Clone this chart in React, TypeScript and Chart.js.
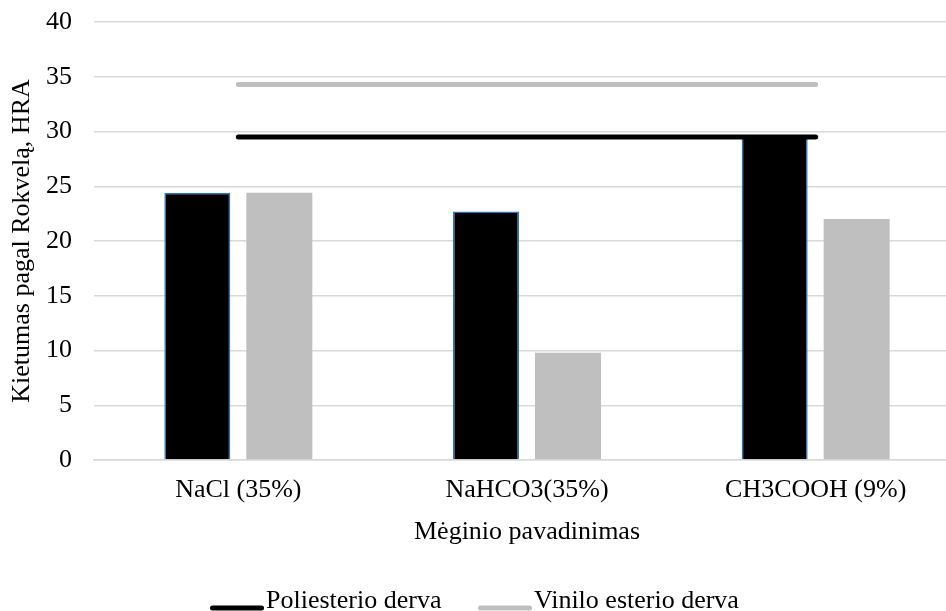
import React, { useEffect, useRef } from 'react';
import { Chart, registerables } from 'chart.js';

Chart.register(...registerables);

const categories = ['NaCl (35%)', 'NaHCO3(35%)', 'CH3COOH (9%)'];
const polyesterBars = [24.4, 22.7, 29.5];
const vinylBars = [24.4, 9.8, 22.0];
const polyesterLine = [29.5, 29.5, 29.5];
const vinylLine = [34.3, 34.3, 34.3];
const seriesNames = ['Poliesterio derva', 'Vinilo esterio derva'];
const yTitle = 'Kietumas pagal Rokvelą, HRA';
const xTitle = 'Mėginio pavadinimas';
const yMin = 0;
const yMax = 40;
const yStep = 5;

const FONT = "'Liberation Serif', 'Times New Roman', serif";
const FS = 26;

function legendLine(color: string): HTMLCanvasElement {
  const c = document.createElement('canvas');
  c.width = 54;
  c.height = 30;
  const g = c.getContext('2d')!;
  g.strokeStyle = color;
  g.lineWidth = 5;
  g.lineCap = 'round';
  g.beginPath();
  g.moveTo(2.5, 22);
  g.lineTo(51.5, 22);
  g.stroke();
  return c;
}

const LEGEND_PAD = 47.5;

const legendPlace = {
  id: 'legendPlace',
  afterLayout(chart: any) {
    const l = chart.legend;
    if (!l) return;
    l.left = 221 - LEGEND_PAD;
    l.right = 960;
    l.top = 601 - FS / 2 - LEGEND_PAD;
    l.bottom = 620;
  },
};

export default function App() {
  const ref = useRef<HTMLCanvasElement>(null);

  useEffect(() => {
    if (!ref.current) return;
    const chart = new Chart(ref.current, {
      type: 'bar',
      data: {
        labels: categories,
        datasets: [
          {
            type: 'line',
            label: seriesNames[0],
            data: polyesterLine,
            borderColor: '#000000',
            backgroundColor: '#000000',
            borderWidth: 5,
            borderCapStyle: 'round',
            pointRadius: 0,
            pointHoverRadius: 0,
            pointStyle: legendLine('#000000'),
            fill: false,
          } as any,
          {
            type: 'line',
            label: seriesNames[1],
            data: vinylLine,
            borderColor: '#BFBFBF',
            backgroundColor: '#BFBFBF',
            borderWidth: 5,
            borderCapStyle: 'round',
            pointRadius: 0,
            pointHoverRadius: 0,
            pointStyle: legendLine('#BFBFBF'),
            fill: false,
          } as any,
          {
            type: 'bar',
            label: seriesNames[0] + ' bar',
            data: polyesterBars,
            backgroundColor: '#000000',
            borderColor: '#2F75B5',
            borderWidth: 1.5,
            categoryPercentage: 0.568,
            barPercentage: 0.805,
          },
          {
            type: 'bar',
            label: seriesNames[1] + ' bar',
            data: vinylBars,
            backgroundColor: '#BFBFBF',
            borderColor: '#BFBFBF',
            borderWidth: 0,
            categoryPercentage: 0.568,
            barPercentage: 0.805,
          },
        ],
      },
      options: {
        animation: false,
        responsive: false,
        maintainAspectRatio: false,
        layout: { padding: { top: 22, left: 0, right: 0, bottom: 0 } },
        font: { family: FONT, size: FS },
        plugins: {
          tooltip: { enabled: false },
          legend: {
            position: 'bottom',
            align: 'start',
            maxHeight: 63,
            labels: {
              filter: (item: any) => item.datasetIndex < 2,
              usePointStyle: true,
              pointStyleWidth: 32,
              padding: LEGEND_PAD,
              color: '#000',
              font: { family: FONT, size: FS },
            },
          },
        },
        scales: {
          x: {
            grid: { display: false, drawTicks: false },
            border: { display: true, color: '#D9D9D9', width: 1.5 },
            ticks: {
              padding: 15,
              color: '#000',
              font: { family: FONT, size: FS },
            },
            title: {
              display: true,
              text: xTitle,
              color: '#000',
              padding: { top: 0, bottom: 0 },
              font: { family: FONT, size: FS },
            },
            afterFit: (s: any) => {
              s.height = 88;
            },
          },
          y: {
            min: yMin,
            max: yMax,
            grid: { color: '#D9D9D9', lineWidth: 1.5, drawTicks: false },
            border: { display: false },
            ticks: {
              stepSize: yStep,
              padding: 22,
              color: '#000',
              font: { family: FONT, size: FS },
            },
            title: {
              display: true,
              text: yTitle,
              color: '#000',
              padding: { top: 7, bottom: 0 },
              font: { family: FONT, size: FS },
            },
            afterFit: (s: any) => {
              s.width = 94;
              s.paddingTop = 0;
              s.paddingBottom = 0;
            },
          },
        },
      } as any,
      plugins: [legendPlace],
    });
    return () => chart.destroy();
  }, []);

  return (
    <div
      style={{
        position: 'fixed',
        left: 0,
        top: 0,
        width: 946,
        height: 611,
        overflow: 'hidden',
        background: '#fff',
      }}
    >
      <canvas ref={ref} width={960} height={611} style={{ display: 'block' }} />
    </div>
  );
}
